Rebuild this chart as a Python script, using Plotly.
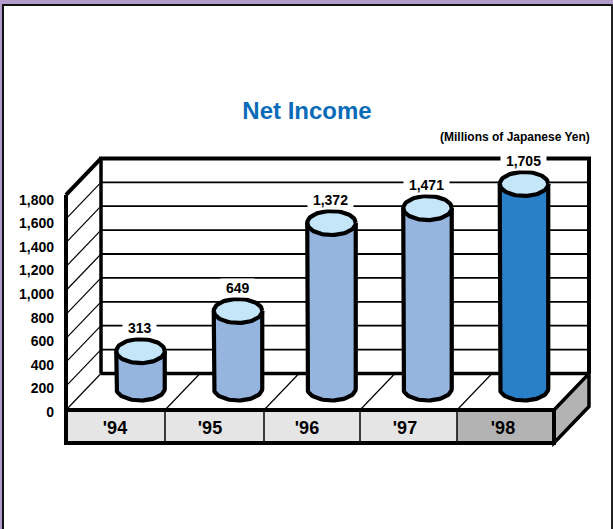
import numpy as np
import plotly.graph_objects as go

# ---------- data ----------
categories = ["'94", "'95", "'96", "'97", "'98"]
printed_values = [313, 649, 1372, 1471, 1705]
drawn_heights = [313, 649, 1385, 1510, 1712]   # heights as read against the gridlines
axis_ticks = [0, 200, 400, 600, 800, 1000, 1200, 1400, 1600, 1800]

# ---------- layout constants ----------
W, H = 613, 529
PX_PER_UNIT = 23.9 / 200
FRONT_Y = 410
DX, DY = 35, 36.5            # depth of the floor
LEFT, RIGHT = 66, 554
DIVIDERS = [165, 264, 360, 457]
BAR_CENTERS = [140.5, 238, 331.5, 427.5, 524]
LABEL_X = [115, 210, 307, 405, 503]
BAR_W = 48.5
BAR_BASE_PY = 388.5
RY_PX = 12
BLACK = "#000000"
LIGHT, DARK, CAP = "#95B4DE", "#2980C8", "#C5E6F8"
BAND, BAND_DK = "#E5E5E5", "#B3B3B3"
FONT = "Liberation Sans"


def V(py):
    """pixel row -> value on the main y axis"""
    return (FRONT_Y - py) / PX_PER_UNIT


base = V(BAR_BASE_PY)
ry = RY_PX / PX_PER_UNIT
back_floor = DY / PX_PER_UNIT
top_val = axis_ticks[-1]

fig = go.Figure()


def line(x0, y0, x1, y1, w, layer="below"):
    fig.add_shape(type="line", x0=x0, y0=y0, x1=x1, y1=y1, xref="x", yref="y",
                  line=dict(color=BLACK, width=w), layer=layer)


def poly(xs, ys, fill, w):
    path = "M" + " L".join(f"{a},{b}" for a, b in zip(xs, ys)) + " Z"
    fig.add_shape(type="path", path=path, xref="x", yref="y", fillcolor=fill,
                  line=dict(color=BLACK, width=w) if w else dict(width=0), layer="below")


# page frame
fig.add_shape(type="rect", xref="x", yref="paper", x0=0, x1=W, y0=1 - 4 / H, y1=1,
              fillcolor="#B39CCC", line_width=0, layer="below")
fig.add_shape(type="rect", xref="x", yref="paper", x0=0, x1=W, y0=1 - 6 / H, y1=1 - 4 / H,
              fillcolor="#111111", line_width=0, layer="below")
fig.add_shape(type="rect", xref="x", yref="paper", x0=0, x1=2, y0=0, y1=1 - 4 / H,
              fillcolor="#B39CCC", line_width=0, layer="below")
fig.add_shape(type="rect", xref="x", yref="paper", x0=2, x1=4, y0=0, y1=1 - 4 / H,
              fillcolor="#111111", line_width=0, layer="below")
fig.add_shape(type="rect", xref="x", yref="paper", x0=611, x1=W, y0=0, y1=1 - 4 / H,
              fillcolor="#222222", line_width=0, layer="below")

# gridlines on back wall and left wall
for t in axis_ticks[1:-1]:
    line(LEFT + DX, t + back_floor, RIGHT + DX, t + back_floor, 1.8)
for t in axis_ticks[:-1]:
    line(LEFT, t, LEFT + DX, t + back_floor, 1.2)

# floor dividers
for d in DIVIDERS:
    line(d, 0, d + DX, back_floor, 1.2)

# back wall frame and left wall
line(LEFT + DX, back_floor, RIGHT + DX, back_floor, 3.5)
line(LEFT + DX, back_floor, LEFT + DX, top_val + back_floor, 3.5)
line(LEFT + DX - 2, top_val + back_floor, RIGHT + DX + 2, top_val + back_floor, 4)
line(RIGHT + DX, back_floor, RIGHT + DX, top_val + back_floor, 4)
line(LEFT, 0, LEFT, top_val, 4)
line(LEFT, top_val, LEFT + DX, top_val + back_floor, 4)

# base band and its right side
band_bottom = V(443)
edges = [LEFT] + DIVIDERS + [RIGHT]
poly([RIGHT, RIGHT + DX, RIGHT + DX, RIGHT], [0, back_floor, back_floor + band_bottom, band_bottom], BAND_DK, 3.5)
for i in range(5):
    poly([edges[i], edges[i + 1], edges[i + 1], edges[i]], [0, 0, band_bottom, band_bottom],
         BAND_DK if i == 4 else BAND, 0)
for d in DIVIDERS:
    line(d, 0, d, band_bottom, 1.5)
poly([LEFT, RIGHT, RIGHT, LEFT], [0, 0, band_bottom, band_bottom], "rgba(0,0,0,0)", 4)

# cylinder bodies from the data
colors = [DARK if c == categories[-1] else LIGHT for c in categories]
fig.add_trace(go.Bar(x=BAR_CENTERS, y=drawn_heights, base=base, width=BAR_W,
                     marker=dict(color=colors, line_width=0),
                     hoverinfo="skip", showlegend=False))
t_low = np.linspace(np.pi, 2 * np.pi, 40)
t_all = np.linspace(0, 2 * np.pi, 80)
for cx, h, col in zip(BAR_CENTERS, drawn_heights, colors):
    top = base + h
    xs = [cx - BAR_W / 2] + list(cx + BAR_W / 2 * np.cos(t_low)) + [cx + BAR_W / 2]
    ys = [top] + list(base + ry * np.sin(t_low)) + [top]
    fig.add_trace(go.Scatter(x=xs, y=ys, mode="lines", fill="toself", fillcolor=col,
                             line=dict(color=BLACK, width=4.2), hoverinfo="skip", showlegend=False))
    fig.add_trace(go.Scatter(x=cx + BAR_W / 2 * np.cos(t_all), y=top + ry * np.sin(t_all),
                             mode="lines", fill="toself", fillcolor=CAP,
                             line=dict(color=BLACK, width=4.2), hoverinfo="skip", showlegend=False))

# value labels
for cx, h, v in zip(BAR_CENTERS, drawn_heights, printed_values):
    fig.add_annotation(x=cx - 1, y=base + h, yshift=23, text=f"&nbsp;{v:,}&nbsp;", showarrow=False,
                       bgcolor="white", borderpad=1, xref="x", yref="y",
                       font=dict(family=FONT, size=14, color=BLACK, weight=700))

# carrier for the value-axis labels
fig.add_trace(go.Scatter(x=[LEFT] * len(axis_ticks), y=axis_ticks, yaxis="y2", mode="markers",
                         marker=dict(size=1, opacity=0), hoverinfo="skip", showlegend=False))

fig.add_annotation(x=591.5, y=1 - 137 / H, xref="x", yref="paper", xanchor="right", yanchor="middle",
                   text="(Millions of Japanese Yen)",
                   showarrow=False, font=dict(family=FONT, size=12, color=BLACK, weight=700))

UNITS2 = 1800 / (411.7 - 200)
fig.update_layout(
    width=W, height=H, margin=dict(l=0, r=0, t=0, b=0),
    paper_bgcolor="white", plot_bgcolor="white", bargap=0,
    barmode="overlay",
    title=dict(text="Net Income", x=307 / W, xanchor="center", y=1 - 111 / H, yanchor="middle",
               font=dict(family=FONT, size=24, color="#0A6CB8", weight=700)),
    xaxis=dict(range=[0, W], domain=[0, 1], showgrid=False, zeroline=False, showline=False,
               tickmode="array", tickvals=LABEL_X, ticktext=categories, ticks="",
               anchor="free", position=1 - 415 / H,
               tickfont=dict(family=FONT, size=18, color=BLACK, weight=700)),
    yaxis=dict(range=[V(H), V(0)], domain=[0, 1], visible=False),
    yaxis2=dict(range=[-(H - 411.7) * UNITS2, 411.7 * UNITS2], overlaying="y", side="left",
                anchor="free", position=54 / W, showgrid=False, zeroline=False, showline=False,
                tickmode="array", tickvals=axis_ticks, ticktext=[f"{t:,}" for t in axis_ticks], ticks="",
                tickfont=dict(family=FONT, size=14, color=BLACK, weight=700)),
)

fig.write_html("out.html", config=dict(displayModeBar=False),
               post_script="document.body.style.margin='0';")
